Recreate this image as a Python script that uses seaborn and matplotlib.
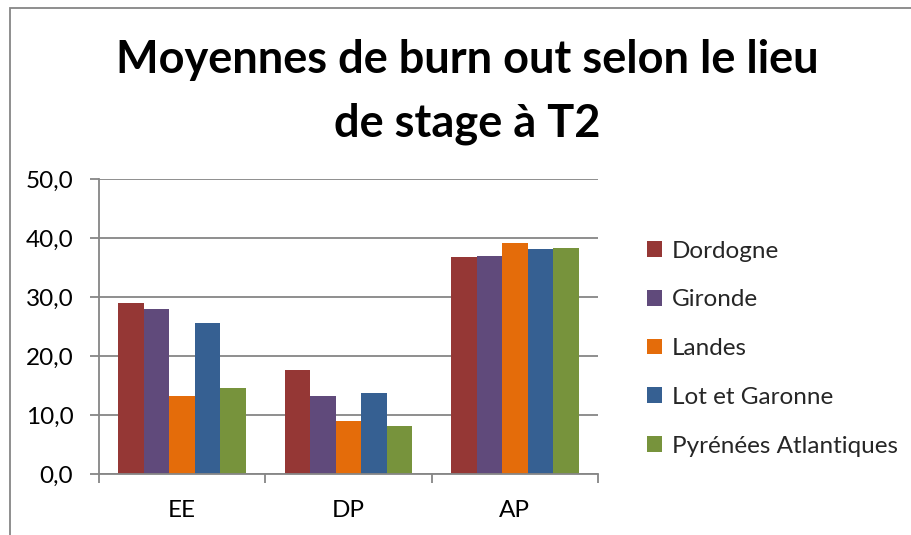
import matplotlib
matplotlib.use("Agg")
import matplotlib.pyplot as plt
import seaborn as sns
import pandas as pd
from matplotlib.patches import Patch, Rectangle
from matplotlib.ticker import FuncFormatter, FixedLocator

categories = ["EE", "DP", "AP"]
series = ["Dordogne", "Gironde", "Landes", "Lot et Garonne", "Pyrénées Atlantiques"]
dordogne = [29.0, 17.6, 36.7]
gironde = [27.9, 13.3, 36.9]
landes = [13.3, 9.0, 39.2]
lot_et_garonne = [25.6, 13.7, 38.2]
pyrenees_atl = [14.5, 8.2, 38.3]
colors = ["#953735", "#604A7B", "#E46C0A", "#366092", "#77933C"]
title = "Moyennes de burn out selon le lieu\nde stage à T2"

values = [dordogne, gironde, landes, lot_et_garonne, pyrenees_atl]
rows = []
for s, vals in zip(series, values):
    for c, v in zip(categories, vals):
        rows.append({"cat": c, "serie": s, "val": v})
df = pd.DataFrame(rows)

sns.set_theme(style="white")
plt.rcParams["font.family"] = ["Lato", "DejaVu Sans"]

W, H = 911, 535
fig = plt.figure(figsize=(W / 100, H / 100), dpi=100)
L, R, T, B = 99, 598, 179, 474
ax = fig.add_axes([L / W, 1 - B / H, (R - L) / W, (B - T) / H])

sns.barplot(data=df, x="cat", y="val", hue="serie", order=categories,
            hue_order=series, palette=colors, width=0.766, gap=0,
            saturation=1, ax=ax, legend=False, edgecolor="none")

grey = "#868686"
fs = 17.5
ax.set_ylim(0, 50)
ax.set_xlim(-0.5, 2.5)
ax.set_yticks([0, 10, 20, 30, 40, 50])
ax.yaxis.set_major_formatter(FuncFormatter(lambda v, p: f"{v:.1f}".replace(".", ",")))
ax.yaxis.grid(True, color=grey, linewidth=1.3)
ax.set_axisbelow(True)
for side in ["top", "right"]:
    ax.spines[side].set_visible(False)
for side in ["left", "bottom"]:
    ax.spines[side].set_color(grey)
    ax.spines[side].set_linewidth(1.3)
ax.tick_params(axis="y", which="major", length=6.5, width=1.3, color=grey,
               pad=12, labelsize=fs, labelcolor="black", left=True)
ax.set_xticks([0, 1, 2])
ax.set_xticklabels(categories)
ax.xaxis.set_minor_locator(FixedLocator([-0.5, 0.5, 1.5, 2.5]))
ax.tick_params(axis="x", which="major", length=0, pad=19, labelsize=fs,
               labelcolor="black")
ax.tick_params(axis="x", which="minor", length=6.5, width=1.3, color=grey,
               bottom=True)
ax.set_xlabel("")
ax.set_ylabel("")

fig.text(467 / W, 1 - 92 / H, title, ha="center", va="center",
         fontsize=32.5, fontweight="bold", color="black", linespacing=1.62)

handles = [Patch(facecolor=c, edgecolor="none") for c in colors]
leg = fig.legend(handles, series, loc="upper left",
                 bbox_to_anchor=(637 / W, 1 - 231 / H), frameon=False,
                 fontsize=fs, handlelength=0.62, handleheight=0.62,
                 handletextpad=0.4, labelspacing=1.14, borderaxespad=0)

fig.patches.append(Rectangle((10 / W, -0.1), 1.2, 1 - 8 / H + 0.1,
                             transform=fig.transFigure, fill=False,
                             edgecolor=grey, linewidth=1.3))

fig.savefig("out.png", dpi=100, facecolor="white")
